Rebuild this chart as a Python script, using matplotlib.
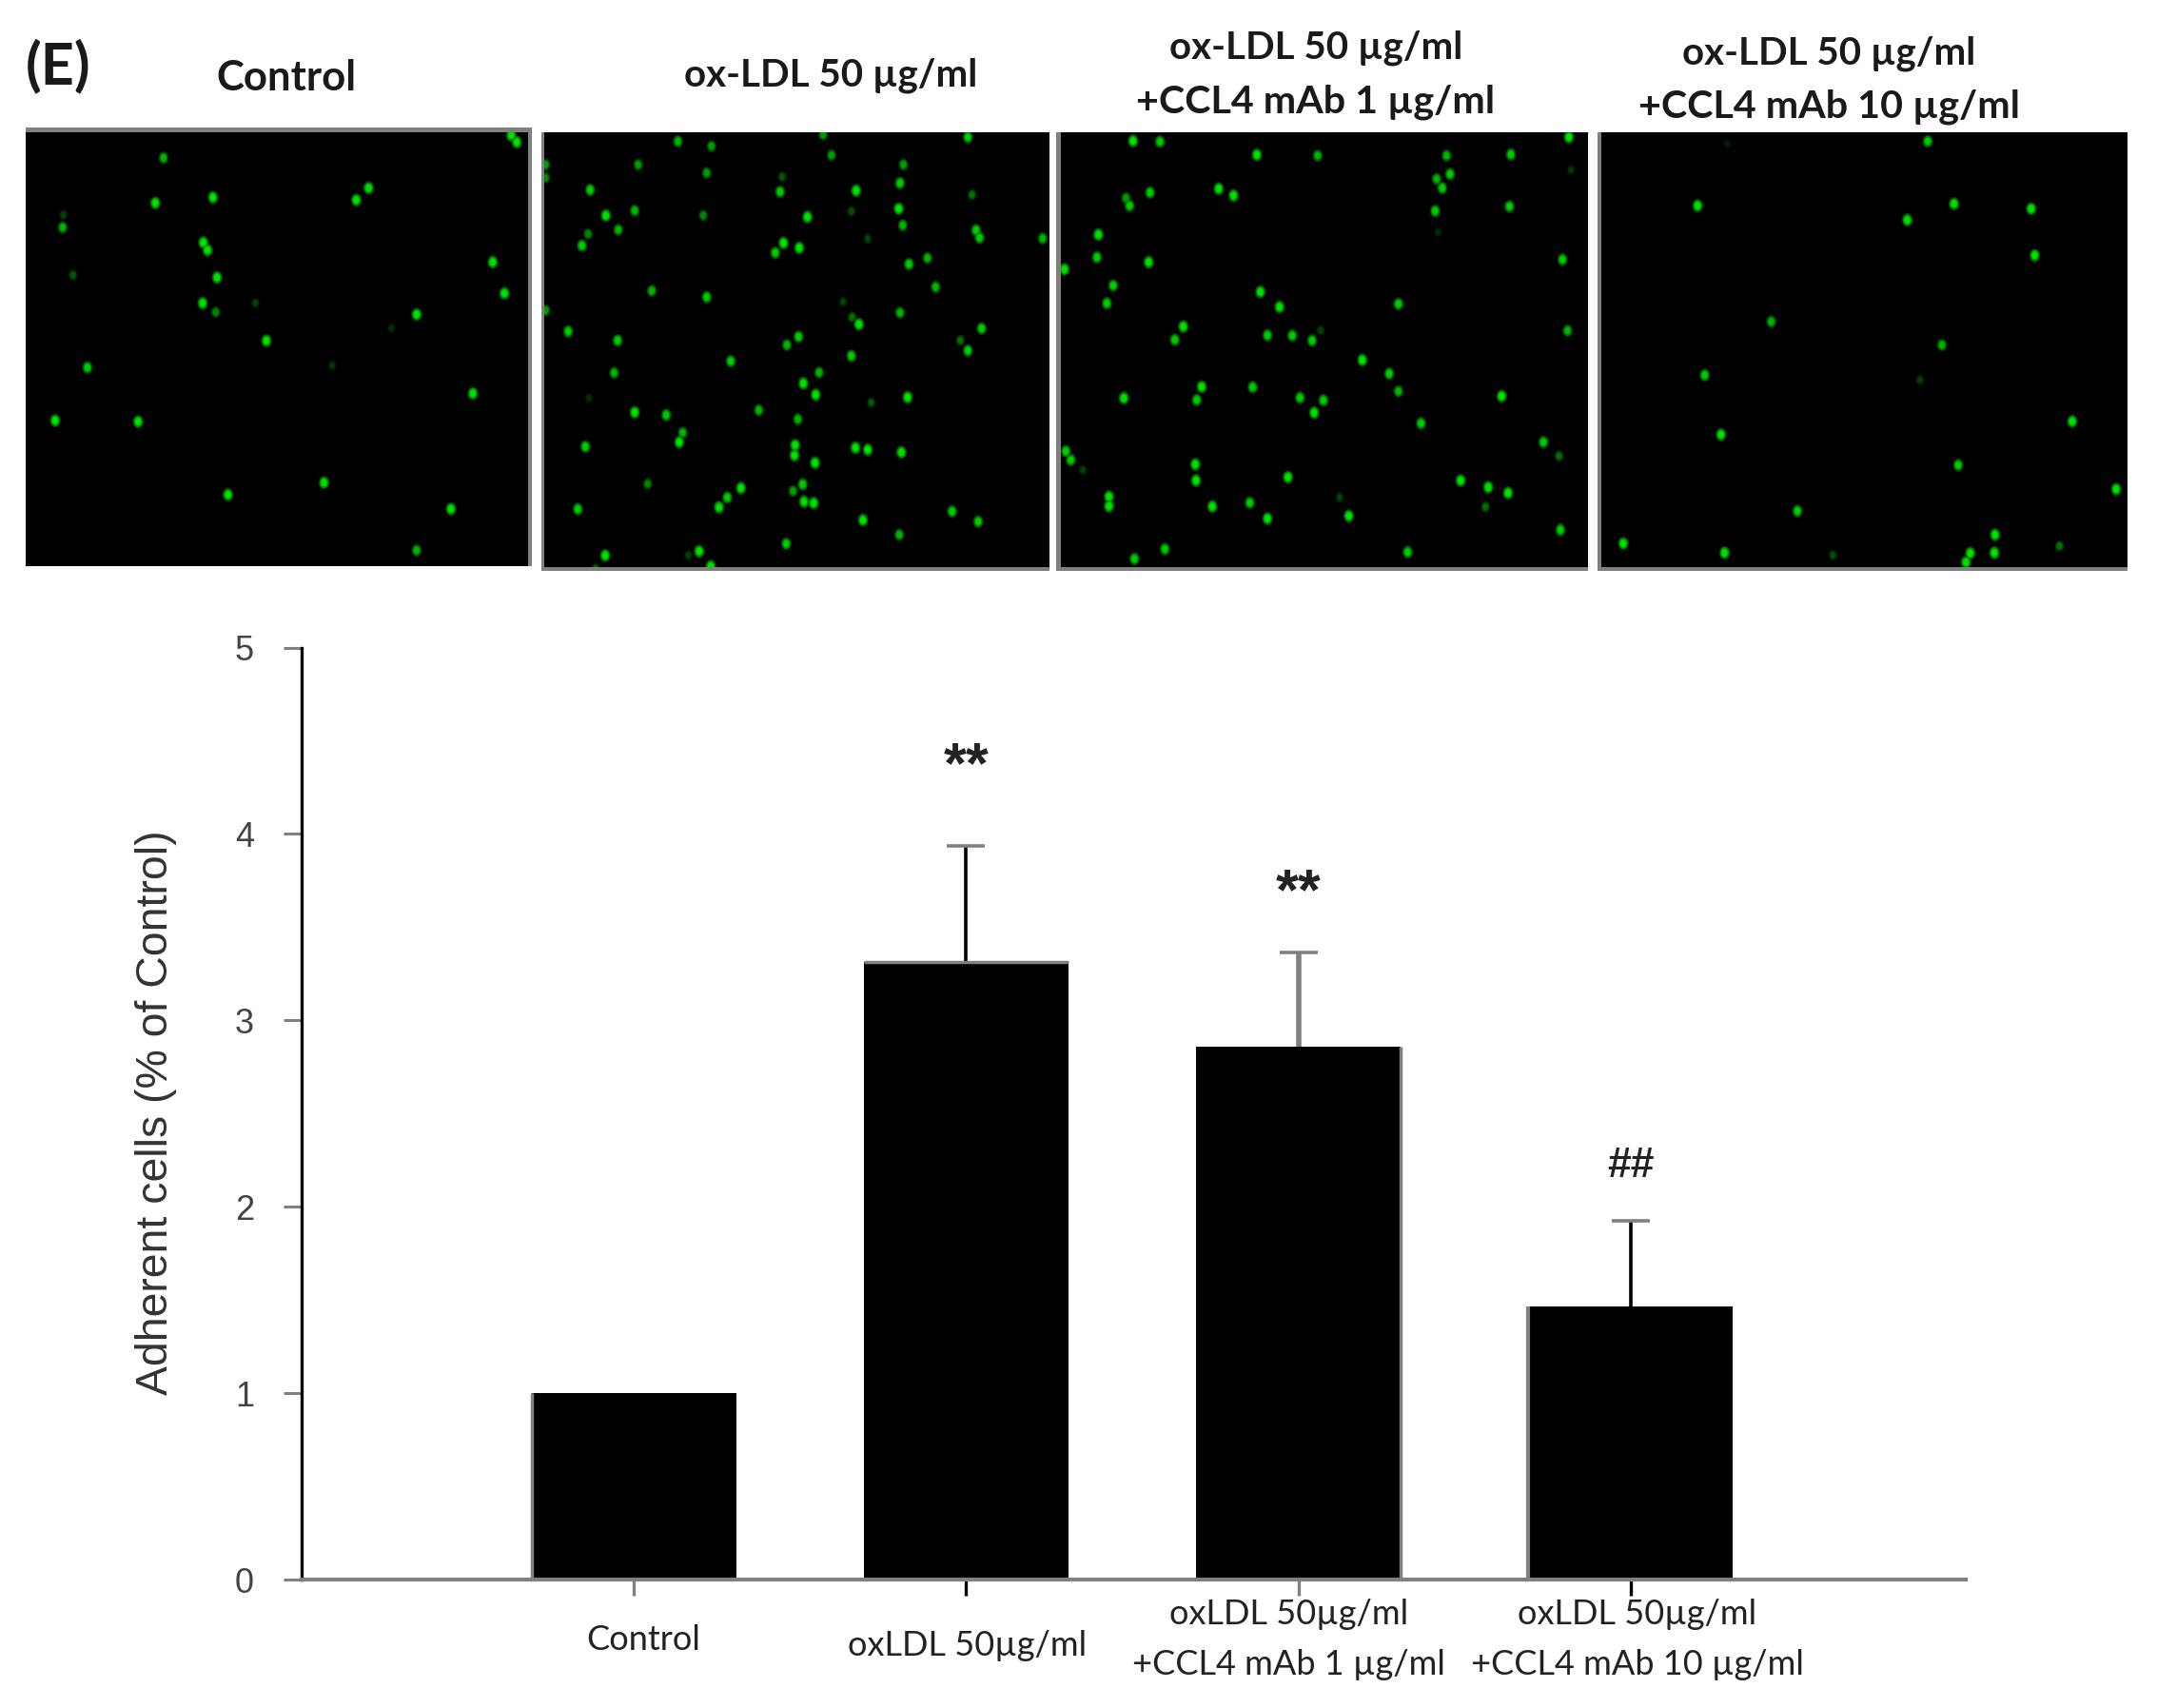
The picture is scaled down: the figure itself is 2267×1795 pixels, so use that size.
import matplotlib
matplotlib.use("Agg")
import matplotlib.pyplot as plt
from matplotlib.patches import Rectangle
from matplotlib.path import Path
from matplotlib.transforms import ScaledTranslation, Affine2D
import numpy as np

W, H, DPI = 2267, 1795, 100

# ---- bar chart values ----
categories = ["Control", "oxLDL 50µg/ml", "oxLDL 50µg/ml\n+CCL4 mAb 1 µg/ml", "oxLDL 50µg/ml\n+CCL4 mAb 10 µg/ml"]
means = [1.0, 3.315, 2.86, 1.467]
errors = [0.0, 0.62, 0.506, 0.46]
marks = ["", "**", "**", "##"]
mark_levels = [0, 4.355, 3.675, 2.22]
yticks = [0, 1, 2, 3, 4, 5]
ylabel = "Adherent cells (% of Control)"

# ---- panel titles ----
panel_titles = ["Control", "ox-LDL 50 µg/ml", "ox-LDL 50 µg/ml\n+CCL4 mAb 1 µg/ml", "ox-LDL 50 µg/ml\n+CCL4 mAb 10 µg/ml"]

# ---- adherent cells seen in each micrograph: x, y, brightness ----
cells1_x = [238,745,753,537,519,226,310,91,92,296,302,718,106,316,735,295,314,372,607,388,127,484,689,80,201,472,332,657,607,570]
cells1_y = [420,360,378,500,532,540,525,605,572,645,665,697,732,738,780,806,830,806,836,906,977,972,1046,1118,1121,1283,1315,1353,1463,873]
cells1_b = [.8,1,1,1,1,1,1,.8,.3,1,1,1,.4,1,1,1,.6,.3,1,1,.9,.25,1,1,1,1,1,1,.8,.2]

cells2_x = [988,1037,1200,1411,1212,795,930,1317,1030,795,1140,860,1137,1248,1312,1417,925,883,1025,1177,1241,1310,1316,901,857,848,1142,1165,1130,1423,1428,1265,1520,1352,1325,1364,950,1030,1229,795,1312,1242,1252,1431,828,900,1164,1147,1400,1411,1241,1065,895,1194,1171,1189,1323,1270,858,925,971,1106,1163,995,990,853,1159,1158,1247,1265,1314,1188,944,1080,1170,1156,1060,1172,1186,842,1048,1388,1258,1426,1311,1146,882,1019,1003,1036,868]
cells2_y = [376,389,358,365,413,438,438,438,460,473,470,505,510,507,487,518,560,573,573,577,562,555,599,611,622,653,646,659,672,612,632,635,634,686,702,763,773,790,802,825,831,843,862,873,881,905,895,917,905,932,946,960,991,990,1019,1049,1056,1070,1058,1096,1103,1090,1114,1150,1175,1187,1183,1210,1190,1195,1202,1230,1286,1297,1287,1305,1322,1333,1337,1353,1348,1359,1382,1386,1421,1445,1476,1465,1475,1505,1512]
cells2_b = [.8,.7,.7,.9,.7,.7,.7,.7,.7,.6,.4,.9,.9,1,.9,.5,.8,1,.6,1,.35,1,.8,.8,.6,.9,1,1,.9,.9,.9,.3,.8,.8,.9,.8,.8,.9,.3,.7,.8,.5,1,.9,.9,.9,.9,.8,.5,.9,.9,.9,.8,.8,1,1,1,.4,.2,1,.9,.8,.8,.8,1,.9,1,1,1,1,1,1,.6,1,.9,.7,.9,1,1,.9,1,.9,1,.9,.8,.9,1,1,.3,1,.5]

cells3_x = [122,160,738,297,383,565,656,570,741,551,559,243,264,146,112,117,549,654,73,71,144,729,25,94,302,85,329,497,193,181,312,347,375,387,736,446,484,219,291,109,212,358,391,497,643,378,529,702,27,34,724,51,210,211,341,585,624,652,88,88,234,287,414,620,312,427,726,167,510,124,553]
cells3_y = [375,377,365,412,414,414,411,463,452,476,500,502,520,512,527,547,561,549,624,684,697,690,716,759,776,806,816,808,868,903,891,892,905,878,879,957,993,1028,1029,1058,1063,1057,1064,1040,1053,1097,1125,1175,1199,1222,1212,1249,1234,1277,1268,1277,1295,1310,1320,1345,1346,1336,1322,1347,1378,1371,1408,1459,1467,1485,617]
cells3_b = [1,.9,1,1,.8,.8,.9,.9,.25,.8,.9,1,1,.9,.7,.9,.9,.9,1,.9,1,.9,1,.9,1,.9,1,.9,1,.9,.9,.9,.9,.3,.8,1,.9,1,.9,1,.9,.9,.9,.8,1,1,.9,.9,.9,.9,.5,.3,1,1,1,1,1,1,1,1,1,.9,.3,.5,1,1,.9,.9,.9,.9,.2]

cells4_x = [1244,919,1281,1390,1215,1395,1023,1264,929,1233,1448,952,1287,1510,1060,1339,814,957,1304,1338,1430,1298,1110,961]
cells4_y = [376,547,542,555,585,679,855,917,997,1010,1120,1155,1236,1300,1358,1421,1444,1469,1470,1469,1451,1494,1475,382]
cells4_b = [.9,1,1,1,1,1,.8,.8,.9,.3,1,1,.9,1,.9,1,1,1,1,1,.5,1,.35,.15]

GRAY = "#808080"
plt.rcParams["font.family"] = ["Liberation Sans", "DejaVu Sans"]

fig = plt.figure(figsize=(W / DPI, H / DPI), dpi=DPI, facecolor="white")


def axes_px(left, top, right, bottom, **kw):
    return fig.add_axes([left / W, 1 - bottom / H, (right - left) / W, (bottom - top) / H], **kw)


def gray_band(left, top, right, bottom):
    fig.add_artist(Rectangle((left / W, 1 - bottom / H), (right - left) / W, (bottom - top) / H,
                             transform=fig.transFigure, facecolor=GRAY, edgecolor="none"))


# ---- micrographs ----
panels = [
    ((27, 139, 559, 595), (37, 775), (1505, 352), cells1_x, cells1_y, cells1_b),
    ((572, 139, 1103, 596), (793, 1530), (1507, 352), cells2_x, cells2_y, cells2_b),
    ((1115, 139, 1669, 596), (20, 765), (1507, 352), cells3_x, cells3_y, cells3_b),
    ((1683, 139, 2236, 596), (783, 1526), (1507, 352), cells4_x, cells4_y, cells4_b),
]
gray_band(27, 134, 559, 139)
gray_band(555, 134, 559, 595)
gray_band(569, 139, 572, 600)
gray_band(569, 596, 1103, 600)
gray_band(1110, 139, 1115, 600)
gray_band(1110, 596, 1669, 600)
gray_band(1679, 139, 1683, 600)
gray_band(1679, 596, 2236, 600)

cell_marker = Path.unit_circle().transformed(Affine2D().scale(0.8, 1.0))

for box, xlim, ylim, cx, cy, cb in panels:
    a = axes_px(*box, facecolor="black")
    a.set_xlim(*xlim)
    a.set_ylim(*ylim)
    a.axis("off")
    a.add_patch(Rectangle((0, 0), 1, 1, transform=a.transAxes, facecolor="black", edgecolor="none", zorder=0))
    b = np.array(cb)
    halo = np.zeros((len(b), 3)); halo[:, 1] = 0.28 * b
    mid = np.zeros((len(b), 3)); mid[:, 1] = 0.58 * b
    core = np.zeros((len(b), 3)); core[:, 1] = 0.88 * b
    a.scatter(cx, cy, s=105 * (0.45 + 0.55 * b), c=halo, marker=cell_marker, linewidths=0, zorder=2)
    a.scatter(cx, cy, s=68 * (0.45 + 0.55 * b), c=mid, marker=cell_marker, linewidths=0, zorder=3)
    a.scatter(cx, cy, s=32 * (0.45 + 0.55 * b), c=core, marker=cell_marker, linewidths=0, zorder=4)

# ---- titles above the micrographs ----
title_fam = ["Lato", "DejaVu Sans"]


def title_px(x, y, s, size, weight="bold"):
    fig.text(x / W, 1 - y / H, s, ha="center", va="center", fontsize=size, family=title_fam, weight=weight, color="#1a1a1a")


title_px(61, 69, "(E)", 44)
title_px(301, 82, panel_titles[0], 31.5)
title_px(873, 79, panel_titles[1], 29)
for (x, y1, y2), t in zip([(1383, 50, 107), (1922, 56, 112)], panel_titles[2:]):
    l1, l2 = t.split("\n")
    title_px(x, y1, l1, 29)
    title_px(x, y2, l2, 29.7)

# ---- bar chart ----
ax = axes_px(317, 680.5, 2066, 1660)
positions = [1, 2, 3, 4]
bar_w = 0.6157
ax.bar(positions, means, width=bar_w, color="black", edgecolor="none", zorder=2)
ax.set_xlim(0, 5.008)
ax.set_ylim(0, 5)

err_colors = ["black", GRAY, "black"]
for p, m, e, c in zip(positions[1:], means[1:], errors[1:], err_colors):
    ax.errorbar([p], [m], yerr=[[0], [e]], fmt="none", ecolor=c, elinewidth=2.6 if c == "black" else 4,
                capsize=0, zorder=1)
    ax.plot([p], [m + e], marker="_", markersize=29, markeredgewidth=2.6, color=GRAY, zorder=1)

# resampled grey fringes seen on the bars
ax.vlines(positions[0] - bar_w / 2, 0, means[0], color=GRAY, lw=2.5, zorder=3)
ax.hlines(means[1], positions[1] - bar_w / 2, positions[1] + bar_w / 2, color=GRAY, lw=2.5, zorder=3)
ax.vlines(positions[2] + bar_w / 2, 0, means[2], color=GRAY, lw=2.5, zorder=3)
ax.vlines(positions[3] - bar_w / 2, 0, means[3], color=GRAY, lw=3, zorder=3)

for s in ("top", "right"):
    ax.spines[s].set_visible(False)
ax.spines["left"].set_color("black")
ax.spines["left"].set_linewidth(2.4)
ax.spines["bottom"].set_color(GRAY)
ax.spines["bottom"].set_linewidth(3)
ax.spines["bottom"].set_zorder(5)

ax.set_yticks(yticks)
ax.set_yticklabels([str(v) for v in yticks], fontsize=26, color="#444444", family=["Liberation Sans"])
ax.tick_params(axis="y", length=14, width=2.2, color=GRAY, pad=22)
ax.set_ylabel(ylabel, fontsize=33.4, color="#333333", family=["Liberation Sans"])
ax.yaxis.set_label_coords((186 - 317) / (2066 - 317), (1660 - 1169) / (1660 - 680.5))

ax.set_xticks(positions)
ax.set_xticklabels(categories, fontsize=26, color="#222222", family=["Lato", "DejaVu Sans"], linespacing=1.75)
ax.tick_params(axis="x", length=12, width=2.4, color=GRAY)
for tick, c in zip(ax.xaxis.get_major_ticks(), [GRAY, "black", GRAY, "black"]):
    tick.tick1line.set_markeredgecolor(c)
label_offsets = [(10, 1724), (1, 1730), (-10, 1723), (7, 1723)]
for lab, (dx, yc) in zip(ax.get_xticklabels(), label_offsets):
    lab.set_va("center")
    lab.set_ha("center")
    lab.set_transform(ax.get_xaxis_transform() + ScaledTranslation(dx / DPI, -(yc - 1660) / DPI, fig.dpi_scale_trans))

for p, s, lv in zip(positions, marks, mark_levels):
    if s == "**":
        ax.text(p, lv, s, ha="center", va="center", fontsize=44, color="#222222", family=["Liberation Sans"], weight="bold")
    elif s:
        ax.text(p, lv, s, ha="center", va="center", fontsize=32, color="#222222", family=["Liberation Sans"], weight="bold")

fig.savefig("out.png", dpi=DPI, facecolor="white")
